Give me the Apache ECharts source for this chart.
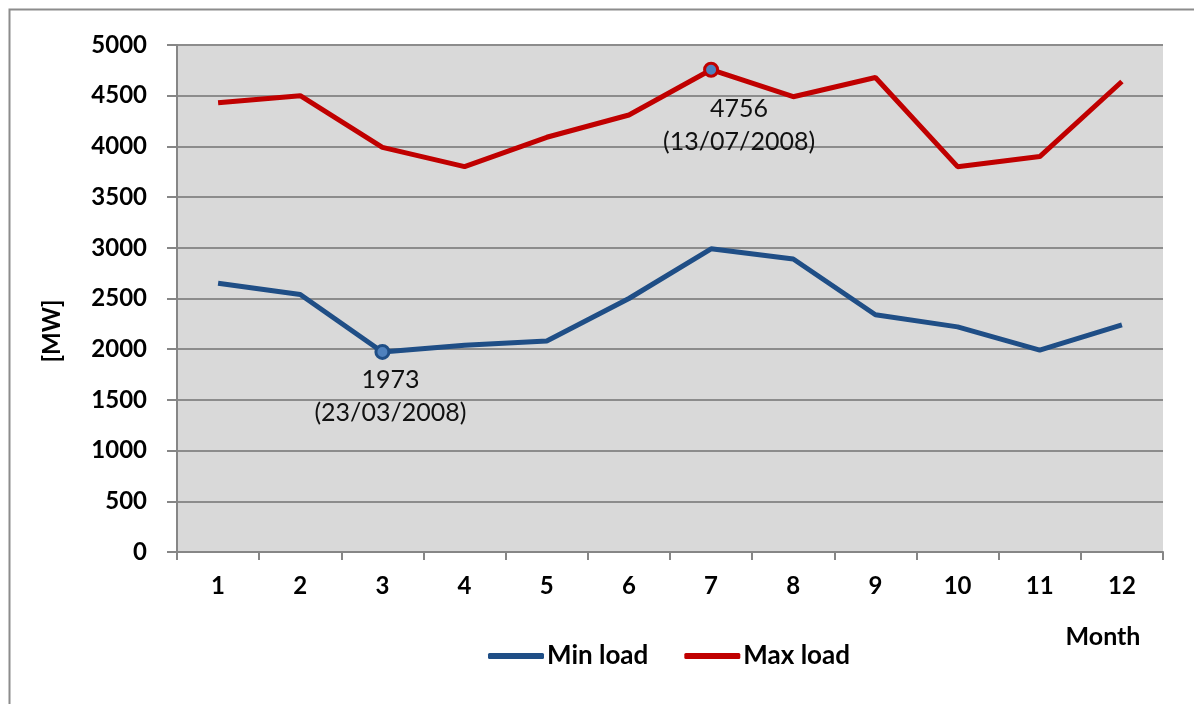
<!DOCTYPE html>
<html>
<head>
<meta charset="utf-8">
<script src="https://cdn.jsdelivr.net/npm/echarts@6/dist/echarts.min.js"></script>
<style>
html,body{margin:0;padding:0;background:#fff;}
#chart{width:1194px;height:704px;}
</style>
</head>
<body>
<div id="chart"></div>
<script>
const months = ['1','2','3','4','5','6','7','8','9','10','11','12'];
const minLoad = [2650, 2540, 1973, 2040, 2080, 2500, 2990, 2890, 2340, 2220, 1990, 2240];
const maxLoad = [4430, 4500, 3990, 3800, 4090, 4310, 4756, 4490, 4680, 3800, 3900, 4640];
const minNoteIndex = 2;
const minNoteText = '1973\n(23/03/2008)';
const maxNoteIndex = 6;
const maxNoteText = '4756\n(13/07/2008)';
const yTicks = { min: 0, max: 5000, interval: 500 };

const FONT = 'Lato, "Open Sans", sans-serif';
const BLUE = '#1f4e86';
const RED = '#c00000';

function buildData(values, noteIdx, noteText, fill, border, dist, off) {
  return values.map((v, i) => {
    if (i !== noteIdx) return v;
    return {
      value: v,
      symbolSize: 13,
      itemStyle: { color: fill, borderColor: border, borderWidth: 3 },
      label: {
        show: true,
        position: 'bottom',
        distance: dist,
        offset: off,
        formatter: noteText,
        fontFamily: FONT,
        fontSize: 25,
        lineHeight: 33,
        color: '#111',
        align: 'center'
      }
    };
  });
}

const chart = echarts.init(document.getElementById('chart'));
chart.setOption({
  backgroundColor: '#fff',
  animation: false,
  grid: {
    left: 177, right: 31, top: 45, bottom: 152,
    show: true, backgroundColor: '#d9d9d9', borderWidth: 0
  },
  xAxis: {
    type: 'category',
    data: months,
    boundaryGap: true,
    axisLine: { lineStyle: { color: '#868686', width: 2 } },
    axisTick: { show: true, length: 8, lineStyle: { color: '#868686', width: 2 } },
    axisLabel: { margin: 22, fontFamily: FONT, fontWeight: 'bold', fontSize: 24, color: '#000' },
    splitLine: { show: false }
  },
  yAxis: {
    type: 'value',
    min: yTicks.min, max: yTicks.max, interval: yTicks.interval,
    axisLine: { show: true, lineStyle: { color: '#868686', width: 2 } },
    axisTick: { show: true, length: 10, lineStyle: { color: '#868686', width: 2 } },
    axisLabel: { margin: 30, fontFamily: FONT, fontWeight: 'bold', fontSize: 24, color: '#000',
                 formatter: v => String(v) },
    splitLine: { show: true, lineStyle: { color: '#8c8c8c', width: 2 } }
  },
  legend: {
    left: 483, top: 638,
    itemWidth: 56, itemHeight: 6, itemGap: 36,
    icon: 'roundRect',
    textStyle: { fontFamily: FONT, fontWeight: 'bold', fontSize: 26, color: '#000', padding: [0,0,0,-2] },
    data: ['Min load', 'Max load']
  },
  series: [
    {
      name: 'Min load', type: 'line',
      data: buildData(minLoad, minNoteIndex, minNoteText, '#4f81bd', BLUE, 3, [8, 0]),
      symbol: 'circle', symbolSize: 0, showSymbol: true,
      lineStyle: { color: BLUE, width: 5 },
      itemStyle: { color: BLUE },
      z: 3
    },
    {
      name: 'Max load', type: 'line',
      data: buildData(maxLoad, maxNoteIndex, maxNoteText, '#4f81bd', RED, 15, [28, 0]),
      symbol: 'circle', symbolSize: 0, showSymbol: true,
      lineStyle: { color: RED, width: 5 },
      itemStyle: { color: RED },
      z: 3
    }
  ],
  graphic: [
    {
      type: 'rect', left: 7, top: 7, z: -10, silent: true,
      shape: { width: 1400, height: 900 },
      style: { fill: 'none', stroke: '#8c8c8c', lineWidth: 2 }
    },
    {
      type: 'text', x: 52, y: 331, rotation: Math.PI / 2,
      style: { text: '[MW]', font: 'bold 24px ' + FONT, fill: '#000', align: 'center', verticalAlign: 'middle' }
    },
    {
      type: 'text', x: 1103, y: 637,
      style: { text: 'Month', font: 'bold 25px ' + FONT, fill: '#000', align: 'center', verticalAlign: 'middle' }
    }
  ]
});
</script>
</body>
</html>
